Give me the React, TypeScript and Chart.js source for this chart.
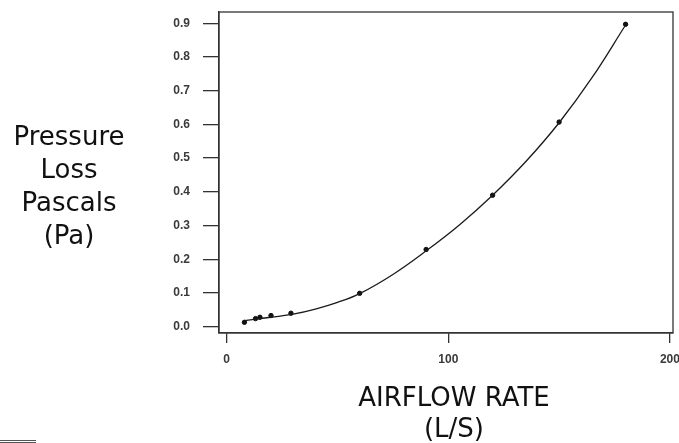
import React, { useEffect, useRef } from "react";
import { Chart, registerables } from "chart.js";

Chart.register(...registerables);

const airflow = [8, 13, 15, 20, 29, 60, 90, 120, 150, 180];
const pressure = [0.013, 0.024, 0.028, 0.033, 0.04, 0.099, 0.229, 0.39, 0.607, 0.897];

const fitAirflow = [8, 15, 20, 30, 40, 50, 60, 75, 90, 105, 120, 135, 150, 165, 180];
const fitPressure = [0.018, 0.024, 0.028, 0.037, 0.052, 0.072, 0.098, 0.155, 0.225, 0.302, 0.39, 0.49, 0.605, 0.74, 0.895];

const xTicks = [0, 100, 200];
const yTicks = [0, 0.1, 0.2, 0.3, 0.4, 0.5, 0.6, 0.7, 0.8, 0.9];

const yTitleLines = ["Pressure", "Loss", "Pascals", "(Pa)"];
const xTitleLines = ["AIRFLOW RATE", "(L/S)"];

const boxPlugin = {
  id: "box",
  afterDraw(chart: any) {
    const { ctx, chartArea } = chart;
    ctx.save();
    ctx.strokeStyle = "#333";
    ctx.lineWidth = 1.3;
    ctx.strokeRect(chartArea.left, chartArea.top, chartArea.right - chartArea.left, chartArea.bottom - chartArea.top);
    ctx.restore();
  },
};

export default function App() {
  const ref = useRef<HTMLCanvasElement>(null);
  useEffect(() => {
    if (!ref.current) return;
    const chart = new Chart(ref.current, {
      type: "scatter",
      data: {
        datasets: [
          {
            type: "line",
            data: fitAirflow.map((x, i) => ({ x, y: fitPressure[i] })),
            borderColor: "#1a1a1a",
            borderWidth: 1.3,
            pointRadius: 0,
            tension: 0.4,
            fill: false,
          },
          {
            data: airflow.map((x, i) => ({ x, y: pressure[i] })),
            backgroundColor: "#111",
            borderColor: "#111",
            pointRadius: 2.2,
            pointStyle: "circle",
          },
        ],
      },
      plugins: [boxPlugin],
      options: {
        animation: false,
        responsive: false,
        devicePixelRatio: 1,
        layout: { padding: { left: 0, top: 12, right: 6, bottom: 0 } },
        plugins: { legend: { display: false }, tooltip: { enabled: false } },
        scales: {
          x: {
            type: "linear",
            min: -3.47,
            max: 201.4,
            afterBuildTicks: (s: any) => {
              s.ticks = xTicks.map((v) => ({ value: v }));
            },
            afterFit: (s: any) => {
              s.height = 110;
              s.paddingLeft = 0;
              s.paddingRight = 0;
            },
            grid: { drawOnChartArea: false, drawTicks: true, tickLength: 10, color: "#333", lineWidth: 1.3 },
            border: { display: true, color: "#333", width: 1.3 },
            ticks: {
              padding: 9,
              maxRotation: 0,
              color: "#3a3a3a",
              font: { family: "Liberation Sans", size: 12, weight: "bold" },
              callback: (v: any) => String(v),
            },
          },
          y: {
            type: "linear",
            min: -0.0187,
            max: 0.9335,
            afterBuildTicks: (s: any) => {
              s.ticks = yTicks.map((v) => ({ value: v }));
            },
            afterFit: (s: any) => {
              s.width = 219;
              s.paddingTop = 0;
              s.paddingBottom = 0;
            },
            grid: { drawOnChartArea: false, drawTicks: true, tickLength: 16, color: "#333", lineWidth: 1.3 },
            border: { display: true, color: "#333", width: 1.3 },
            ticks: {
              padding: 13,
              color: "#3a3a3a",
              font: { family: "Liberation Sans", size: 12, weight: "bold" },
              callback: (v: any) => Number(v).toFixed(1),
            },
          },
        },
      },
    });
    return () => chart.destroy();
  }, []);

  const titleFont: React.CSSProperties = {
    fontFamily: "'DejaVu Sans', sans-serif",
    fontSize: 26,
    color: "#111",
    position: "absolute",
    whiteSpace: "nowrap",
    textAlign: "center",
  };

  return (
    <div style={{ position: "absolute", left: 0, top: 0, width: 679, height: 443, background: "#fff", overflow: "hidden" }}>
      <canvas ref={ref} width={679} height={443} style={{ position: "absolute", left: 0, top: 0, width: 679, height: 443 }} />
      {yTitleLines.map((t, i) => (
        <div key={t} style={{ ...titleFont, left: 0, width: 138, top: 120 + i * 33, lineHeight: "33px" }}>
          {t}
        </div>
      ))}
      {xTitleLines.map((t, i) => (
        <div key={t} style={{ ...titleFont, left: 304, width: 300, top: 381 + i * 31, lineHeight: "33px" }}>
          {t}
        </div>
      ))}
      <div style={{ position: "absolute", left: 0, top: 440, width: 36, height: 0, borderTop: "3px double #555" }} />
    </div>
  );
}
